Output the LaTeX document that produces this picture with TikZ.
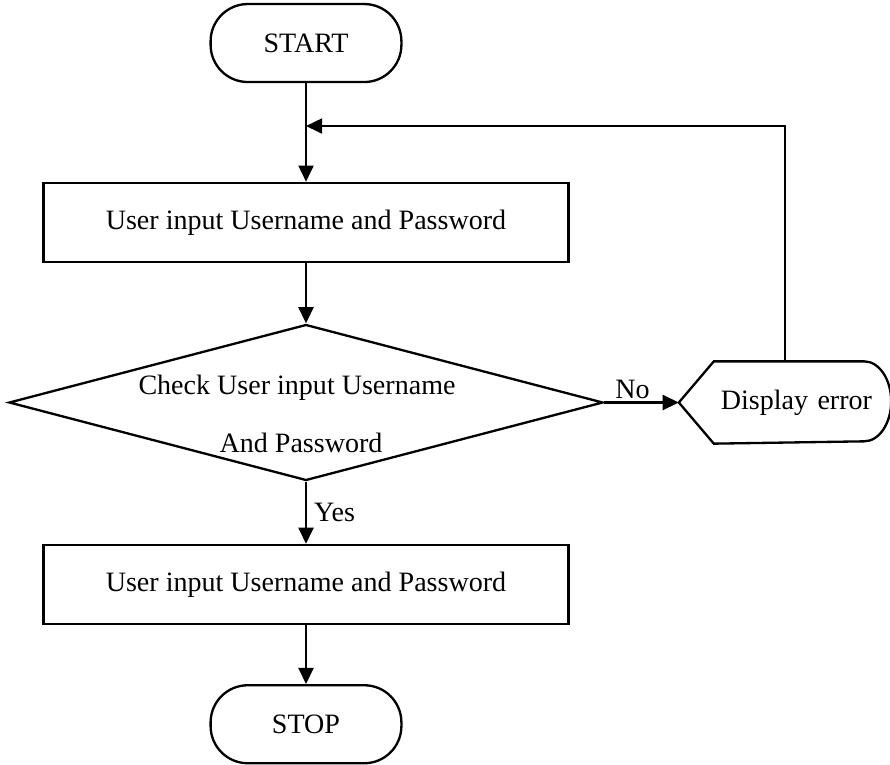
\documentclass[tikz,border=0pt]{standalone}
\usepackage{fontspec}
\setmainfont{Liberation Serif}
\usetikzlibrary{shapes.geometric,arrows.meta}

\begin{document}
\begin{tikzpicture}[font=\fontsize{13.3}{16}\selectfont,line width=1.1pt]

\tikzstyle{term}=[draw,rounded corners=0.62cm,minimum width=3.18cm,minimum height=1.3cm]
\tikzstyle{proc}=[draw,minimum width=8.75cm,minimum height=1.32cm]
\tikzstyle{flow}=[-{Triangle[length=0.27cm,width=0.25cm]}]

\useasboundingbox (0,0) rectangle (14.833,-12.733);

\node[term] (start) at (5.1,-0.717) {START};
\node[proc] (in1) at (5.1,-3.708) {User input Username and Password};
\node[draw,diamond,inner sep=0pt,minimum width=9.9cm,minimum height=2.6cm] (check) at (5.1,-6.708) {};
\node (chk1) at (4.95,-6.467) {Check User input Username};
\node (chk2) at (5.017,-7.383) {And Password};
\node[minimum height=1.333cm,text width=2.9cm,inner xsep=0.3cm,align=right] (err) at (13.083,-6.708) {Display error};
\node[proc] (in2) at (5.1,-9.742) {User input Username and Password};
\node[term] (stop) at (5.1,-12.07) {STOP};
\coordinate (join) at (5.1,-2.1);

% display shape round the error text
\draw (err.west) -- ([xshift=0.583cm]err.north west) -- ([xshift=-0.45cm]err.north east)
  arc[start angle=90,end angle=-90,x radius=0.45cm,y radius=0.6665cm]
  -- ([xshift=0.583cm]err.south west) -- cycle;

\draw[flow] (start) edge (in1);
\draw[flow] (in1) edge (check);
\draw[flow] (check) edge node[above,inner sep=1pt,pos=0.38] {No} (err);
\draw[flow] (check) edge node[right] {Yes} (in2);
\draw[flow] (in2) edge (stop);
\draw[flow] (err.north) |- (join);
\end{tikzpicture}
\end{document}
